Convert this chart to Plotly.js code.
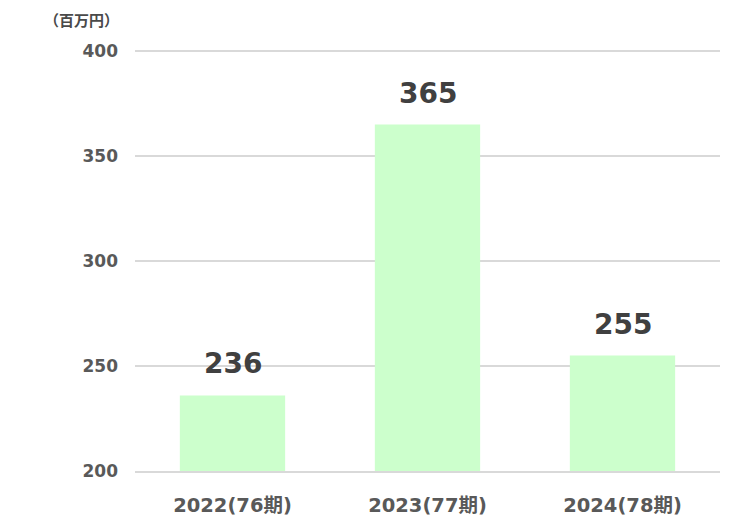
<!DOCTYPE html>
<html>
<head>
<meta charset="utf-8">
<script src="https://cdn.plot.ly/plotly-3.0.1.min.js"></script>
<style>
    html, body { margin: 0; padding: 0; background: #ffffff; }
    #chart { width: 745px; height: 525px; }
</style>
</head>
<body>
<div id="chart"></div>
<script>
const categories = ["2022(76期)", "2023(77期)", "2024(78期)"];
const salesValues = [236, 365, 255];
const yTickValues = [200, 250, 300, 350, 400];
const unitLabel = "（百万円）";

const fontFamily = "\"DejaVu Sans\", \"Noto Sans CJK JP\", sans-serif";

const barTrace = {
    type: "bar",
    x: categories,
    y: salesValues,
    marker: {
        color: "#ccffcc",
    },
    hoverinfo: "skip",
};

// value labels sit a little above each bar
const valueAnnotations = categories.map((category, index) => ({
    x: category,
    y: salesValues[index],
    xref: "x",
    yref: "y",
    text: String(salesValues[index]),
    showarrow: false,
    yanchor: "bottom",
    yshift: 13,
    font: {
        family: fontFamily,
        size: 28,
        color: "#404040",
        weight: "bold",
    },
}));

Plotly.newPlot(
    "chart",
    [barTrace],
    {
        width: 745,
        height: 525,
        margin: { t: 50, r: 25, b: 54, l: 135 },
        paper_bgcolor: "#ffffff",
        plot_bgcolor: "#ffffff",
        bargap: 0.46,
        showlegend: false,
        font: { family: fontFamily, color: "#595959" },
        xaxis: {
            type: "category",
            showgrid: false,
            showline: true,
            linecolor: "#d9d9d9",
            linewidth: 1.5,
            ticks: "",
            ticklabelstandoff: 16,
            tickfont: { family: fontFamily, size: 19.5, color: "#595959", weight: "bold" },
        },
        yaxis: {
            range: [200, 400.5],
            tickvals: yTickValues,
            showgrid: true,
            gridcolor: "#d9d9d9",
            gridwidth: 1.5,
            zeroline: false,
            showline: false,
            ticks: "",
            ticklabelstandoff: 16,
            tickfont: { family: fontFamily, size: 17, color: "#595959", weight: "bold" },
        },
        annotations: [
            ...valueAnnotations,
            {
                xref: "paper",
                yref: "paper",
                x: 0,
                y: 1,
                xanchor: "right",
                yanchor: "bottom",
                xshift: -14,
                yshift: 18,
                text: unitLabel,
                showarrow: false,
                font: { family: "\"Noto Sans CJK JP\", sans-serif", size: 15, color: "#4a4a4a", weight: "bold" },
            },
        ],
    },
    { displayModeBar: false, staticPlot: true },
);
</script>
</body>
</html>
